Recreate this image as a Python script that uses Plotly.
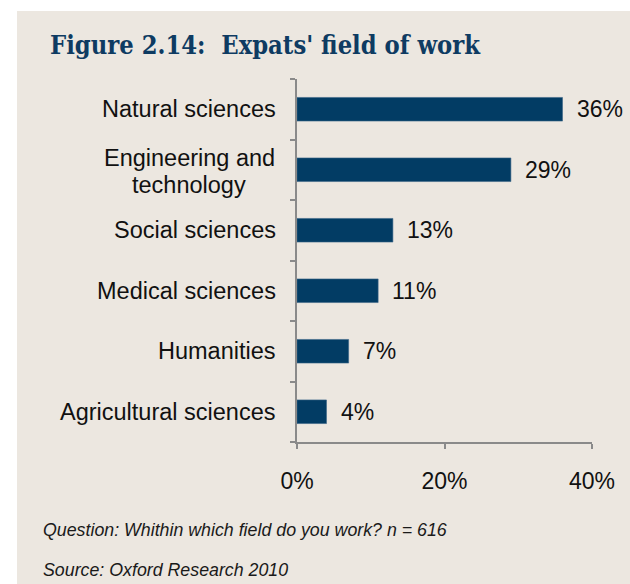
import plotly.graph_objects as go

# Survey data: expats' field of work (share of respondents, %)
fields = [
    "Natural sciences",
    "Engineering and<br>technology",
    "Social sciences",
    "Medical sciences",
    "Humanities",
    "Agricultural sciences",
]
shares = [36, 29, 13, 11, 7, 4]
x_ticks = [0, 20, 40]
x_tick_labels = ["0%", "20%", "40%"]

title_text = "Figure 2.14:  Expats' field of work"
note_text = "Question: Whithin which field do you work? n = 616"
source_text = "Source: Oxford Research 2010"

# Page geometry (pixels)
W, H = 630, 584
L, R, T, B = 297, 38, 79, 142
PW, PH = W - L - R, H - T - B

BG = "#ECE7E0"
BAR = "#023C64"
AXIS = "#8A8A8A"
TITLE = "#0E3B62"
TEXT = "#111111"
SANS = "Liberation Sans, Arial, sans-serif"
LABEL_SIZE = 23.5
LINE_GAP = 27  # baseline distance for two-line category labels


def xp(px):
    return (px - L) / PW


def yp(py):
    return (H - B - py) / PH


fig = go.Figure(
    go.Bar(
        x=shares,
        y=fields,
        orientation="h",
        marker=dict(color=BAR, line=dict(color="#3A6486", width=0.6)),
        hoverinfo="skip",
    )
)

annotations = []
# Category labels: single lines end at the axis, wrapped labels are centred
for f in fields:
    lines = f.split("<br>")
    if len(lines) == 1:
        annotations.append(dict(
            x=xp(278), xref="paper", y=f, yref="y",
            text=f, showarrow=False, xanchor="right",
            font=dict(family=SANS, size=LABEL_SIZE, color=TEXT),
        ))
    else:
        n = len(lines)
        for i, line in enumerate(lines):
            annotations.append(dict(
                x=xp(189), xref="paper", y=f, yref="y",
                text=line, showarrow=False, xanchor="center",
                yshift=((n - 1) / 2 - i) * LINE_GAP - 1.5,
                font=dict(family=SANS, size=LABEL_SIZE, color=TEXT),
            ))
# Value labels at the bar ends
for f, v in zip(fields, shares):
    annotations.append(dict(
        x=v, xref="x", y=f, yref="y",
        text=f"{v}%", showarrow=False, xanchor="left", xshift=12,
        font=dict(family=SANS, size=23, color=TEXT),
    ))
# Title and footnotes
annotations.append(dict(
    x=xp(48), xref="paper", y=yp(45), yref="paper",
    text=f"<b>{title_text}</b>", showarrow=False, xanchor="left", yanchor="middle",
    font=dict(family="DejaVu Serif Condensed, DejaVu Serif, serif", size=25.3, color=TITLE),
))
annotations.append(dict(
    x=xp(41), xref="paper", y=yp(530), yref="paper",
    text=f"<i>{note_text}</i>", showarrow=False, xanchor="left", yanchor="middle",
    font=dict(family=SANS, size=17.8, color="#1a1a1a"),
))
annotations.append(dict(
    x=xp(41), xref="paper", y=yp(570), yref="paper",
    text=f"<i>{source_text}</i>", showarrow=False, xanchor="left", yanchor="middle",
    font=dict(family=SANS, size=17.8, color="#1a1a1a"),
))

# White frame strips on the left and top edges
shapes = [
    dict(type="rect", xref="paper", yref="paper", x0=xp(0), x1=xp(17), y0=yp(H), y1=yp(0),
         fillcolor="white", line=dict(width=0), layer="below"),
    dict(type="rect", xref="paper", yref="paper", x0=xp(0), x1=xp(W), y0=yp(11), y1=yp(0),
         fillcolor="white", line=dict(width=0), layer="below"),
]

fig.update_layout(
    width=W, height=H,
    margin=dict(l=L, r=R, t=T, b=B, autoexpand=False),
    paper_bgcolor=BG, plot_bgcolor=BG,
    bargap=0.61,
    showlegend=False,
    annotations=annotations,
    shapes=shapes,
    xaxis=dict(
        range=[0, 40], tickvals=x_ticks, ticktext=x_tick_labels,
        showgrid=False, zeroline=False,
        showline=True, linecolor=AXIS, linewidth=2,
        ticks="outside", ticklen=5, tickcolor=AXIS, tickwidth=2,
        ticklabelstandoff=12,
        tickfont=dict(family=SANS, size=23, color=TEXT),
        fixedrange=True,
    ),
    yaxis=dict(
        categoryorder="array", categoryarray=fields[::-1],
        showgrid=False, zeroline=False,
        showline=True, linecolor=AXIS, linewidth=2,
        ticks="outside", ticklen=5, tickcolor=AXIS, tickwidth=2,
        tickson="boundaries",
        showticklabels=False,
        fixedrange=True,
    ),
)

fig.write_html("out.html", config={"displayModeBar": False})
